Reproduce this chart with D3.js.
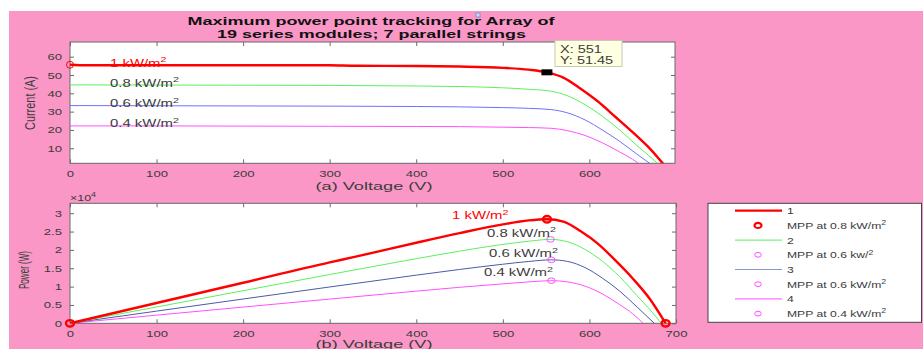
<!DOCTYPE html>
<html>
<head>
<meta charset="utf-8">
<script src="https://cdn.jsdelivr.net/npm/d3@7"></script>
<style>
  body { margin: 0; background: #fff; }
  text { font-family: "Liberation Sans", Arial, sans-serif; }
</style>
</head>
<body>
<svg id="chart" width="923" height="349"></svg>
<script>
// ---- data ----
const vRed = [0, 20, 100, 200, 300, 330, 400, 450, 500, 530, 551, 570, 590, 610, 630, 650, 670, 688];
const iRed = [55.6, 55.3, 55.3, 55.3, 55.3, 55.0, 54.9, 54.6, 53.9, 52.9, 51.45, 48.6, 42.5, 35.5, 27.2, 18.8, 9.8, 0];
const pRed = [0, 1106, 5530, 11060, 16590, 18150, 21960, 24570, 26950, 28037, 28349, 27702, 25075, 21655, 17136, 12220, 6566, 0];

const vGreen = [0, 100, 200, 300, 400, 450, 500, 530, 555, 575, 595, 615, 635, 655, 670, 683];
const iGreen = [44.6, 44.5, 44.4, 44.3, 44.0, 43.7, 43.0, 42.2, 41.2, 38.6, 33.8, 27.5, 20.0, 11.5, 5.5, 0];
const pGreen = [0, 4450, 8880, 13290, 17600, 19665, 21500, 22366, 22866, 22195, 20111, 16913, 12700, 7533, 3685, 0];

const vBlue = [0, 100, 200, 300, 400, 450, 500, 530, 556, 575, 595, 615, 635, 655, 675];
const iBlue = [33.3, 33.2, 33.1, 33.0, 32.8, 32.6, 32.2, 31.8, 31.1, 29.3, 25.5, 20.0, 13.8, 6.8, 0];
const pBlue = [0, 3320, 6620, 9900, 13120, 14670, 16100, 16854, 17292, 16848, 15173, 12300, 8763, 4454, 0];

const vMag = [0, 100, 200, 300, 400, 450, 500, 530, 556, 575, 595, 615, 635, 650, 662];
const iMag = [22.2, 22.2, 22.1, 22.0, 21.9, 21.8, 21.5, 21.3, 20.9, 19.6, 17.0, 13.0, 8.0, 4.0, 0];
const pMag = [0, 2220, 4420, 6600, 8760, 9810, 10750, 11289, 11620, 11270, 10115, 7995, 5080, 2600, 0];

const irrLabels = ['1 kW/m', '0.8 kW/m', '0.6 kW/m', '0.4 kW/m'];
const mppV = [551, 555, 556, 556];
const mppP = [28349, 22866, 17292, 11620];
const cursorPoint = { x: 551, y: 51.45 };

const xTicksA = [0, 100, 200, 300, 400, 500, 600];
const xTicksB = [0, 100, 200, 300, 400, 500, 600, 700];
const yTicksA = [10, 20, 30, 40, 50, 60];
const yTicksB = [0, 5000, 10000, 15000, 20000, 25000, 30000];
const yTickLabelsB = ['0', '0.5', '1', '1.5', '2', '2.5', '3'];

const legendLabels = ['1', 'MPP at 0.8 kW/m', '2', 'MPP at 0.6 kw/', '3', 'MPP at 0.6 kW/m', '4', 'MPP at 0.4 kW/m'];

// ---- styles ----
const colRed = '#ff0000', colGreen = '#5cf05c', colBlueA = '#6f6fff', colBlueB = '#4b5aa8', colMag = '#ff50ff';
const axisCol = '#6a6a6a', textCol = '#3c3c3c';

const svg = d3.select('#chart');
svg.append('rect').attr('x', 9).attr('y', 11).attr('width', 914).attr('height', 338).attr('fill', '#fa97c6');

// stretch text horizontally like the reference
function stretch(sel, k) {
  sel.each(function () {
    const w = this.getComputedTextLength();
    d3.select(this).attr('textLength', w * k).attr('lengthAdjust', 'spacingAndGlyphs');
  });
}
function supText(g, x, y, base, sup, size, fill, anchor) {
  const t = g.append('text').attr('x', x).attr('y', y).attr('font-size', size)
    .attr('fill', fill).attr('text-anchor', anchor || 'start');
  t.append('tspan').text(base);
  if (sup) t.append('tspan').attr('font-size', size * 0.72).attr('dy', -size * 0.42).text(sup);
  return t;
}

// ---- plot (a) ----
const xA = d3.scaleLinear().domain([0, 699]).range([70, 675]);
const yA = d3.scaleLinear().domain([1.8, 68]).range([163.3, 42]);
// ---- plot (b) ----
const xB = d3.scaleLinear().domain([0, 700]).range([70, 676]);
const yB = d3.scaleLinear().domain([0, 32700]).range([323.3, 203.3]);

function drawFrame(x, y, xt, yt, ytLabels) {
  const g = svg.append('g');
  const [x0, x1] = x.range(), [y0, y1] = y.range();
  g.append('rect').attr('x', x0).attr('y', y1).attr('width', x1 - x0).attr('height', y0 - y1).attr('fill', '#fff');
  const bottom = g.append('g').attr('transform', `translate(0,${y0})`)
    .call(d3.axisBottom(x).tickValues(xt).tickSizeInner(-4).tickSizeOuter(0).tickPadding(7));
  const left = g.append('g').attr('transform', `translate(${x0},0)`)
    .call(d3.axisLeft(y).tickValues(yt).tickSizeInner(-4).tickSizeOuter(0).tickPadding(8)
      .tickFormat((d, i) => ytLabels ? ytLabels[i] : d));
  g.append('g').attr('transform', `translate(0,${y1})`)
    .call(d3.axisTop(x).tickValues(xt).tickSizeInner(-4).tickSizeOuter(0).tickFormat(''));
  g.append('g').attr('transform', `translate(${x1},0)`)
    .call(d3.axisRight(y).tickValues(yt).tickSizeInner(-4).tickSizeOuter(0).tickFormat(''));
  g.selectAll('.domain').remove();
  g.selectAll('.tick line').attr('stroke', axisCol);
  g.selectAll('.tick text').attr('font-size', 9.5).attr('fill', textCol)
    .attr('font-family', '"Liberation Sans", Arial, sans-serif');
  stretch(bottom.selectAll('.tick text'), 1.38);
  stretch(left.selectAll('.tick text'), 1.38);
  g.append('rect').attr('x', x0).attr('y', y1).attr('width', x1 - x0).attr('height', y0 - y1)
    .attr('fill', 'none').attr('stroke', axisCol).attr('stroke-width', 1);
  return g;
}

drawFrame(xA, yA, xTicksA, yTicksA);
drawFrame(xB, yB, xTicksB, yTicksB, yTickLabelsB);

const defs = svg.append('defs');
defs.append('clipPath').attr('id', 'clipA').append('rect')
  .attr('x', 70).attr('y', 42).attr('width', 605).attr('height', 121.3);
defs.append('clipPath').attr('id', 'clipB').append('rect')
  .attr('x', 70).attr('y', 203.3).attr('width', 606).attr('height', 120);

function drawCurve(clip, x, y, vs, ys, col, w) {
  const line = d3.line().x(d => x(d[0])).y(d => y(d[1])).curve(d3.curveMonotoneX);
  svg.append('path').attr('clip-path', `url(#${clip})`)
    .datum(vs.map((v, i) => [v, ys[i]]))
    .attr('d', line).attr('fill', 'none').attr('stroke', col).attr('stroke-width', w);
}

// I-V curves
drawCurve('clipA', xA, yA, vMag, iMag, colMag, 1);
drawCurve('clipA', xA, yA, vBlue, iBlue, colBlueA, 1);
drawCurve('clipA', xA, yA, vGreen, iGreen, colGreen, 1);
drawCurve('clipA', xA, yA, vRed, iRed, colRed, 2.4);
svg.append('circle').attr('cx', xA(vRed[0])).attr('cy', yA(iRed[0])).attr('r', 3.5)
  .attr('fill', 'none').attr('stroke', colRed).attr('stroke-width', 1);

// P-V curves
drawCurve('clipB', xB, yB, vMag, pMag, colMag, 1);
drawCurve('clipB', xB, yB, vBlue, pBlue, colBlueB, 1);
drawCurve('clipB', xB, yB, vGreen, pGreen, colGreen, 1);
drawCurve('clipB', xB, yB, vRed, pRed, colRed, 2.4);

// MPP markers
mppV.forEach((v, i) => {
  svg.append('ellipse').attr('cx', xB(v)).attr('cy', yB(mppP[i]))
    .attr('rx', i === 0 ? 4 : 3.8).attr('ry', i === 0 ? 3.2 : 2.8)
    .attr('fill', 'none').attr('stroke', i === 0 ? colRed : colMag).attr('stroke-width', i === 0 ? 2.4 : 1);
});
[[vRed[0], pRed[0]], [vRed[vRed.length - 1], pRed[pRed.length - 1]]].forEach(d => {
  svg.append('ellipse').attr('cx', xB(d[0])).attr('cy', yB(d[1])).attr('rx', 4).attr('ry', 3.2)
    .attr('fill', 'none').attr('stroke', colRed).attr('stroke-width', 2.4);
});

// labels in plot (a)
const labA = svg.append('g');
[iRed, iGreen, iBlue, iMag].forEach((arr, i) => {
  const t = supText(labA, 110, yA(arr[1]) + 1.5, irrLabels[i], '2', 10.5, i === 0 ? colRed : textCol);
  stretch(t, 1.42);
});
// labels in plot (b)
const labB = svg.append('g');
const labBpos = [[452, 219], [487, 236.5], [489, 257], [484, 276]];
labBpos.forEach((p, i) => {
  const t = supText(labB, p[0], p[1], irrLabels[i], '2', 10.5, i === 0 ? colRed : textCol);
  stretch(t, 1.42);
});

// data cursor
svg.append('rect').attr('x', xA(cursorPoint.x) - 5.5).attr('y', yA(cursorPoint.y) - 3)
  .attr('width', 11).attr('height', 6).attr('fill', '#000');
svg.append('rect').attr('x', 555).attr('y', 40.5).attr('width', 67).attr('height', 26)
  .attr('fill', '#ffffe1').attr('stroke', '#c8c8b4').attr('stroke-width', 1);
const tipX = svg.append('text').attr('x', 560).attr('y', 52.5).attr('font-size', 10.5).attr('fill', textCol)
  .text('X: ' + cursorPoint.x);
const tipY = svg.append('text').attr('x', 560).attr('y', 64).attr('font-size', 10.5).attr('fill', textCol)
  .text('Y: ' + cursorPoint.y);
stretch(tipX, 1.38); stretch(tipY, 1.38);

// title
const t1 = svg.append('text').attr('x', 371).attr('y', 25).attr('text-anchor', 'middle')
  .attr('font-size', 11).attr('font-weight', 'bold').attr('fill', '#111')
  .text('Maximum power point tracking for Array of');
const t2 = svg.append('text').attr('x', 371.5).attr('y', 38).attr('text-anchor', 'middle')
  .attr('font-size', 11).attr('font-weight', 'bold').attr('fill', '#111')
  .text('19 series modules; 7 parallel strings');
t1.attr('textLength', 367).attr('lengthAdjust', 'spacingAndGlyphs');
t2.attr('textLength', 309).attr('lengthAdjust', 'spacingAndGlyphs');
svg.append('rect').attr('x', 476).attr('y', 13).attr('width', 4).attr('height', 4)
  .attr('fill', '#c8dcf8').attr('stroke', '#6a8ccc').attr('stroke-width', 0.8);

// axis labels
svg.append('text').attr('x', 374).attr('y', 190).attr('text-anchor', 'middle').attr('font-size', 11)
  .attr('fill', textCol).attr('textLength', 117).attr('lengthAdjust', 'spacingAndGlyphs')
  .text('(a) Voltage (V)');
svg.append('text').attr('x', 374).attr('y', 348).attr('text-anchor', 'middle').attr('font-size', 11)
  .attr('fill', textCol).attr('textLength', 117).attr('lengthAdjust', 'spacingAndGlyphs')
  .text('(b) Voltage (V)');
svg.append('text').attr('transform', 'translate(35,103) rotate(-90)').attr('text-anchor', 'middle')
  .attr('font-size', 14).attr('fill', textCol).attr('textLength', 54).attr('lengthAdjust', 'spacingAndGlyphs')
  .text('Current (A)');
svg.append('text').attr('transform', 'translate(29,270) rotate(-90)').attr('text-anchor', 'middle')
  .attr('font-size', 14).attr('fill', textCol).attr('textLength', 38).attr('lengthAdjust', 'spacingAndGlyphs')
  .text('Power (W)');
const exp = supText(svg, 70, 200.5, '\u00d710', '4', 9, textCol);
stretch(exp, 1.38);

// legend
const lg = svg.append('g');
lg.append('rect').attr('x', 708).attr('y', 203.3).attr('width', 213.5).attr('height', 119)
  .attr('fill', '#fff').attr('stroke', '#444').attr('stroke-width', 1);
const legendCols = [colRed, colRed, colGreen, colMag, colBlueB, colMag, colMag, colMag];
legendLabels.forEach((lab, i) => {
  const yy = 210.7 + i * 14.7;
  if (i % 2 === 0) {
    lg.append('line').attr('x1', 735).attr('x2', 782).attr('y1', yy).attr('y2', yy)
      .attr('stroke', i === 4 ? '#8a96cc' : legendCols[i]).attr('stroke-width', i === 0 ? 2.2 : 1);
  } else {
    lg.append('ellipse').attr('cx', 758).attr('cy', yy).attr('rx', i === 1 ? 3.5 : 3.3).attr('ry', i === 1 ? 2.6 : 2.4)
      .attr('fill', 'none').attr('stroke', legendCols[i]).attr('stroke-width', i === 1 ? 2.2 : 1);
  }
  const t = supText(lg, 787, yy + 3.5, lab, i % 2 === 1 ? '2' : '', 9, textCol);
  stretch(t, 1.35);
});
</script>
</body>
</html>
